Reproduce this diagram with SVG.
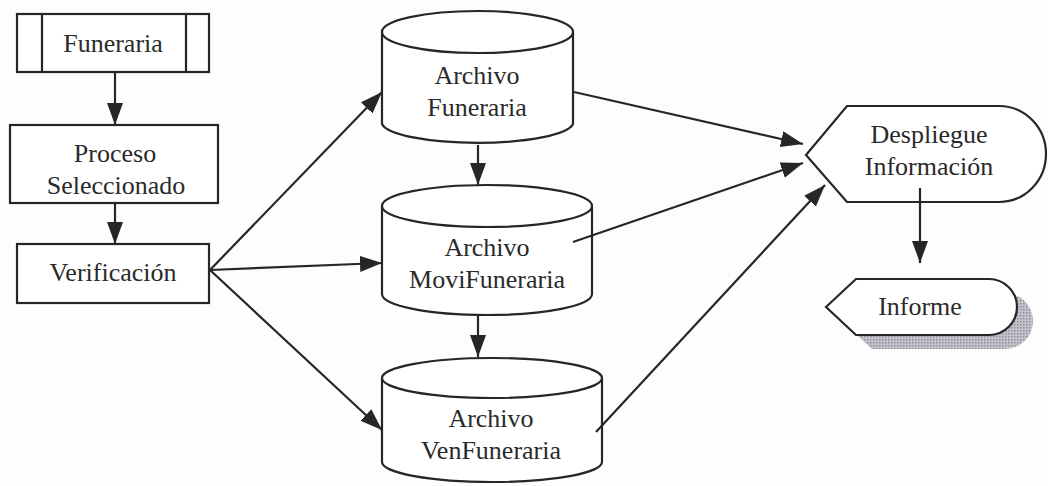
<svg xmlns="http://www.w3.org/2000/svg" width="1048" height="486" viewBox="0 0 1048 486">
<defs>
<marker id="ah" markerUnits="userSpaceOnUse" markerWidth="24" markerHeight="18" refX="22" refY="8" orient="auto">
<path d="M0,0 L22,8 L0,16 z" fill="#262626"/>
</marker>
<pattern id="dots" width="3" height="3" patternUnits="userSpaceOnUse">
<rect width="3" height="3" fill="#c4c4cc"/>
<rect width="1.5" height="1.5" fill="#8e8e98"/>
</pattern>
<style>
.s{fill:#fff;stroke:#262626;stroke-width:2.2}
.l{fill:none;stroke:#262626;stroke-width:2.2}
.t{font-family:"Liberation Serif","Times New Roman",serif;font-size:26px;fill:#2a2a2a;text-anchor:middle}
.c{stroke:#262626;stroke-width:2.2;fill:none;marker-end:url(#ah)}
</style>
</defs>
<rect width="1048" height="486" fill="#fdfdfd"/>

<g id="funeraria">
<rect class="s" x="17" y="14" width="192" height="58"/>
<line class="l" x1="42" y1="14" x2="42" y2="72"/>
<line class="l" x1="186" y1="14" x2="186" y2="72"/>
<text class="t" x="113" y="52">Funeraria</text>
</g>

<g id="proceso">
<rect class="s" x="10" y="125" width="208" height="78"/>
<text class="t" x="115" y="162">Proceso</text>
<text class="t" x="116" y="194">Seleccionado</text>
</g>

<g id="verificacion">
<rect class="s" x="17" y="244" width="192" height="59"/>
<text class="t" x="113" y="281">Verificación</text>
</g>

<g id="archivo-funeraria">
<path class="s" d="M382,32 L382,124 A96,21 0 0 0 573,124 L573,32"/>
<ellipse class="s" cx="477.5" cy="32" rx="95.5" ry="21"/>
<text class="t" x="477" y="84">Archivo</text>
<text class="t" x="477" y="116">Funeraria</text>
</g>

<g id="archivo-movifuneraria">
<path class="s" d="M382,206 L382,294 A105,21 0 0 0 592,294 L592,206"/>
<ellipse class="s" cx="487" cy="206" rx="105" ry="21"/>
<text class="t" x="487" y="256">Archivo</text>
<text class="t" x="487" y="288">MoviFuneraria</text>
</g>

<g id="archivo-venfuneraria">
<path class="s" d="M382,378 L382,462 A110,20 0 0 0 602,462 L602,378"/>
<ellipse class="s" cx="492" cy="378" rx="110" ry="20"/>
<text class="t" x="491" y="427">Archivo</text>
<text class="t" x="491" y="459">VenFuneraria</text>
</g>

<g id="despliegue">
<path class="s" d="M806,155 L847,106 L999,106 A47,48 0 0 1 999,202 L847,202 Z"/>
<text class="t" x="929" y="143">Despliegue</text>
<text class="t" x="929" y="175">Información</text>
</g>

<g id="informe">
<path d="M842,321 L872,293 L1005,293 A28,28 0 0 1 1005,349 L872,349 Z" fill="url(#dots)"/>
<path class="s" d="M826,307 L856,279 L989,279 A28,28 0 0 1 989,335 L856,335 Z"/>
<text class="t" x="920" y="315">Informe</text>
</g>

<g id="connectors">
<line class="c" x1="115" y1="72" x2="115" y2="125"/>
<line class="c" x1="115" y1="203" x2="115" y2="244"/>
<line class="c" x1="210" y1="270" x2="382" y2="92"/>
<line class="c" x1="210" y1="270" x2="382" y2="263"/>
<line class="c" x1="210" y1="270" x2="382" y2="430"/>
<line class="c" x1="478" y1="145" x2="478" y2="185"/>
<line class="c" x1="478" y1="315" x2="478" y2="357"/>
<line class="c" x1="574" y1="92" x2="803" y2="144"/>
<line class="c" x1="573" y1="242" x2="803" y2="163"/>
<line class="c" x1="596" y1="432" x2="825" y2="185"/>
<line class="c" x1="920" y1="188" x2="920" y2="263"/>
</g>
</svg>
